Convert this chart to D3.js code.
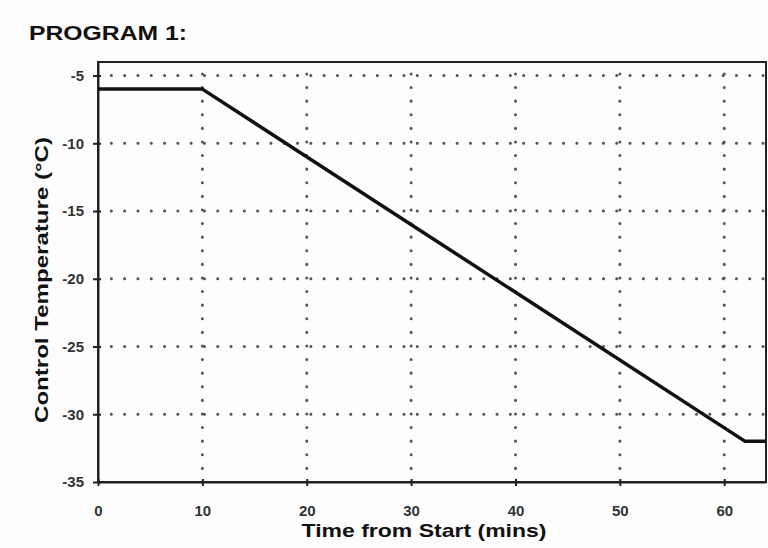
<!DOCTYPE html>
<html>
<head>
<meta charset="utf-8">
<script src="https://cdn.jsdelivr.net/npm/d3@7"></script>
<style>
  body { margin: 0; background: #fdfdfd; }
  text { font-family: "Liberation Sans", Arial, sans-serif; font-weight: bold; }
</style>
</head>
<body>
<div id="chart"></div>
<script>
// data
var times = [0, 10, 62, 64];
var temps = [-6, -6, -32, -32];
var xTicks = [0, 10, 20, 30, 40, 50, 60];
var yTicks = [-35, -30, -25, -20, -15, -10, -5];

var W = 768, H = 548;
var margin = {top: 62, right: 2, bottom: 66, left: 98};

var svg = d3.select("#chart").append("svg")
  .attr("width", W)
  .attr("height", H);

var x = d3.scaleLinear().domain([0, 64]).range([margin.left, W - margin.right]);
var y = d3.scaleLinear().domain([-35, -4]).range([H - margin.bottom, margin.top]);

// title
svg.append("text")
  .attr("x", 29).attr("y", 40)
  .style("font-size", "21px")
  .attr("textLength", 158)
  .attr("lengthAdjust", "spacingAndGlyphs")
  .attr("fill", "#111")
  .text("PROGRAM 1:");

// dotted grid
svg.append("g").selectAll("line.h")
  .data(yTicks.filter(function(d) { return d > -35; }))
  .enter().append("line")
  .attr("x1", x(0)).attr("x2", x(64))
  .attr("y1", function(d) { return y(d); })
  .attr("y2", function(d) { return y(d); })
  .attr("stroke", "#555")
  .attr("stroke-width", 3)
  .attr("stroke-linecap", "round")
  .attr("stroke-dasharray", "0.1 13.2");

svg.append("g").selectAll("line.v")
  .data(xTicks.filter(function(d) { return d > 0; }))
  .enter().append("line")
  .attr("x1", function(d) { return x(d); })
  .attr("x2", function(d) { return x(d); })
  .attr("y1", y(-35)).attr("y2", y(-4))
  .attr("stroke", "#555")
  .attr("stroke-width", 3)
  .attr("stroke-linecap", "round")
  .attr("stroke-dasharray", "0.1 13.5");

// frame
svg.append("rect")
  .attr("x", x(0)).attr("y", y(-4))
  .attr("width", x(64) - x(0))
  .attr("height", y(-35) - y(-4))
  .attr("fill", "none")
  .attr("stroke", "#222")
  .attr("stroke-width", 2);

// axes
var xAxis = svg.append("g")
  .attr("transform", "translate(0," + y(-35) + ")")
  .call(d3.axisBottom(x).tickValues(xTicks).tickSize(4).tickSizeOuter(0).tickPadding(19));
var yAxis = svg.append("g")
  .attr("transform", "translate(" + x(0) + ",0)")
  .call(d3.axisLeft(y).tickValues(yTicks).tickSize(5).tickSizeOuter(0).tickPadding(9)
    .tickFormat(function(d) { return d; }));

[xAxis, yAxis].forEach(function(g) {
  g.select(".domain").attr("stroke", "#222").attr("stroke-width", 2);
  g.selectAll(".tick line").attr("stroke", "#222").attr("stroke-width", 2);
  g.selectAll(".tick text")
    .style("font-size", "15px")
    .style("font-family", "'Liberation Sans', Arial, sans-serif")
    .style("font-weight", "bold")
    .attr("fill", "#333");
});
xAxis.selectAll(".tick line").attr("y1", -3);
yAxis.selectAll(".tick line").attr("x2", 3).attr("x1", -5);

// line
var line = d3.line()
  .x(function(d) { return x(d[0]); })
  .y(function(d) { return y(d[1]); });

svg.append("path")
  .datum(d3.zip(times, temps))
  .attr("d", line)
  .attr("fill", "none")
  .attr("stroke", "#111")
  .attr("stroke-width", 3.5)
  .attr("stroke-linejoin", "round");

// axis titles
svg.append("text")
  .attr("x", 424).attr("y", 537)
  .attr("text-anchor", "middle")
  .style("font-size", "19px")
  .attr("textLength", 245)
  .attr("lengthAdjust", "spacingAndGlyphs")
  .attr("fill", "#111")
  .text("Time from Start (mins)");

svg.append("text")
  .attr("transform", "translate(48," + 280 + ") rotate(-90)")
  .attr("text-anchor", "middle")
  .style("font-size", "19px")
  .attr("textLength", 286)
  .attr("lengthAdjust", "spacingAndGlyphs")
  .attr("fill", "#111")
  .text("Control Temperature (°C)");
</script>
</body>
</html>
